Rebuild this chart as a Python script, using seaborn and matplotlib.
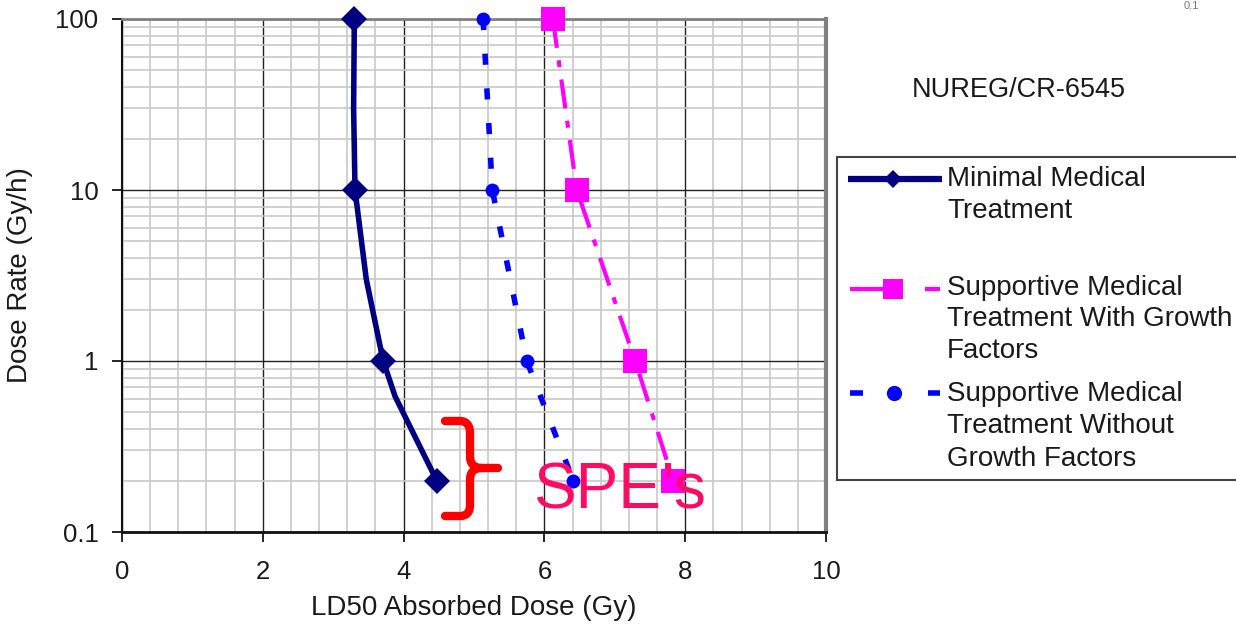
import numpy as np
import seaborn as sns
import matplotlib
matplotlib.use("Agg")
import matplotlib.pyplot as plt
from matplotlib.ticker import MultipleLocator, LogLocator, NullFormatter, FuncFormatter
from matplotlib.lines import Line2D
from matplotlib.patches import Rectangle, PathPatch
from matplotlib.path import Path

# LD50 absorbed dose (Gy) versus dose rate (Gy/h)
minimal_rate = [100, 30, 10, 3, 1, 0.62, 0.2]
minimal_ld50 = [3.30, 3.29, 3.31, 3.47, 3.71, 3.88, 4.47]
minimal_marked = [0, 2, 4, 6]

growth_rate = [100, 10, 1, 0.2]
growth_ld50 = [6.12, 6.46, 7.29, 7.83]

nogrowth_rate = [100, 10, 1, 0.2]
nogrowth_ld50 = [5.13, 5.26, 5.75, 6.41]

x_label = "LD50 Absorbed Dose (Gy)"
y_label = "Dose Rate (Gy/h)"
legend_lines = [
    ["Minimal Medical", "Treatment"],
    ["Supportive Medical", "Treatment With Growth", "Factors"],
    ["Supportive Medical", "Treatment Without", "Growth Factors"],
]

sns.set_theme(style="white")
plt.rcParams["font.family"] = ["Liberation Sans", "DejaVu Sans"]
plt.rcParams["lines.scale_dashes"] = False

W, H = 1236, 631
fig = plt.figure(figsize=(W / 100, H / 100), dpi=100)
fig.patch.set_facecolor("white")


def fx(x):
    return x / W


def fy(y):
    return 1 - y / H


ax = fig.add_axes([fx(122), fy(532), (826 - 122) / W, (532 - 19) / H])
ax.set_facecolor("white")
ax.set_yscale("log")
ax.set_xlim(0, 10)
ax.set_ylim(0.1, 100)

ax.xaxis.set_major_locator(MultipleLocator(2))
ax.xaxis.set_minor_locator(MultipleLocator(0.4))
ax.yaxis.set_major_locator(LogLocator(base=10))
ax.yaxis.set_minor_locator(LogLocator(base=10, subs=np.arange(2, 10)))
ax.yaxis.set_minor_formatter(NullFormatter())
ax.yaxis.set_major_formatter(FuncFormatter(lambda v, p: f"{v:g}"))

ax.grid(which="minor", color="#c8c8c8", linewidth=1.2)
ax.grid(which="major", color="#222222", linewidth=1.0)
ax.set_axisbelow(True)
ax.tick_params(which="minor", length=0, bottom=False, left=False)
ax.tick_params(which="major", direction="out", length=7, width=1.2,
               color="black", labelsize=18.5, labelcolor="#1a1a1a",
               bottom=True, left=True)
ax.tick_params(axis="x", pad=13)
ax.tick_params(axis="y", pad=10)

for side, col, lw in [("left", "#111111", 1.5), ("bottom", "#111111", 2.0),
                      ("top", "#808080", 2.0), ("right", "#808080", 3.0)]:
    ax.spines[side].set_visible(True)
    ax.spines[side].set_color(col)
    ax.spines[side].set_linewidth(lw)

ax.set_xlabel(x_label, fontsize=20, color="#1a1a1a")
ax.set_ylabel(y_label, fontsize=20, color="#1a1a1a")
ax.xaxis.set_label_coords(0.5, (532 - 608) / 513, transform=ax.transAxes)
ax.yaxis.set_label_coords((20 - 122) / 704, 0.5, transform=ax.transAxes)
ax.xaxis.label.set_va("center")
ax.yaxis.label.set_va("center")

navy, magenta, blue = "#000080", "#FF00FF", "#0000FF"

sns.lineplot(x=minimal_ld50, y=minimal_rate, sort=False, estimator=None, ax=ax,
             color=navy, linewidth=4, marker="D", markersize=13,
             markevery=minimal_marked, markeredgecolor=navy, markeredgewidth=0,
             solid_joinstyle="round", zorder=4, clip_on=False)
sns.lineplot(x=growth_ld50, y=growth_rate, sort=False, estimator=None, ax=ax,
             color=magenta, linewidth=3, linestyle=(0, (21, 9, 5, 9)),
             marker="s", markersize=17, markeredgecolor=magenta,
             markeredgewidth=0, dash_capstyle="butt", zorder=4, clip_on=False)
sns.lineplot(x=nogrowth_ld50, y=nogrowth_rate, sort=False, estimator=None, ax=ax,
             color=blue, linewidth=4, linestyle=(0, (8, 17)),
             marker="o", markersize=10, markeredgecolor=blue,
             markeredgewidth=0, dash_capstyle="butt", zorder=4, clip_on=False)

# Bracket and label marking the SPE dose-rate region
brace_px = [
    (445, 421), (460, 421), (466, 421), (470, 425), (470, 433),
    (470, 456), (470, 464), (474, 468), (482, 468), (498, 468),
    (482, 468), (474, 468), (470, 472), (470, 480),
    (470, 505), (470, 513), (466, 516), (460, 516), (445, 516),
]
brace_codes = [
    Path.MOVETO, Path.LINETO, Path.CURVE4, Path.CURVE4, Path.CURVE4,
    Path.LINETO, Path.CURVE4, Path.CURVE4, Path.CURVE4, Path.LINETO,
    Path.MOVETO, Path.CURVE4, Path.CURVE4, Path.CURVE4,
    Path.LINETO, Path.CURVE4, Path.CURVE4, Path.CURVE4, Path.LINETO,
]
brace = PathPatch(Path([(fx(x), fy(y)) for x, y in brace_px], brace_codes),
                  transform=fig.transFigure, facecolor="none", edgecolor="#FF0000",
                  linewidth=6, capstyle="round", joinstyle="round", zorder=6)
fig.add_artist(brace)

ax.text(5.84, 0.138, "SPE\u2019s", fontsize=46, color="#FF0A64",
        ha="left", va="baseline", zorder=6)

fig.text(fx(912), fy(97), "NUREG/CR-6545", fontsize=19.5, color="#1a1a1a",
         ha="left", va="baseline")
fig.text(fx(1184), fy(1), "0.1", fontsize=8, color="#777777",
         ha="left", va="top")

# Legend box
fig.add_artist(Rectangle((fx(837), fy(480)), (1300 - 837) / W, (480 - 157) / H,
                         transform=fig.transFigure, facecolor="white",
                         edgecolor="#444444", linewidth=1.5))


def seg(x0, x1, y, color, lw):
    fig.add_artist(Line2D([fx(x0), fx(x1)], [fy(y), fy(y)], transform=fig.transFigure,
                          color=color, linewidth=lw, solid_capstyle="butt"))


def mark(x, y, color, m, ms):
    fig.add_artist(Line2D([fx(x)], [fy(y)], transform=fig.transFigure, color=color,
                          marker=m, markersize=ms, markeredgewidth=0, linestyle="none"))


seg(848, 942, 179, navy, 4.5)
mark(893, 179, navy, "D", 9)
seg(850, 900, 289, magenta, 3)
mark(893, 289, magenta, "s", 14)
seg(925, 940, 289, magenta, 3)
seg(850, 863, 393, blue, 4)
mark(894, 393, blue, "o", 11)
seg(928, 940, 393, blue, 4)

baselines = [[186, 218], [295, 326, 358], [401, 433, 466]]
for lines, ys in zip(legend_lines, baselines):
    for text, y in zip(lines, ys):
        fig.text(fx(947), fy(y), text, fontsize=20, color="#1a1a1a",
                 ha="left", va="baseline")

fig.savefig("out.png", dpi=100, facecolor="white")
